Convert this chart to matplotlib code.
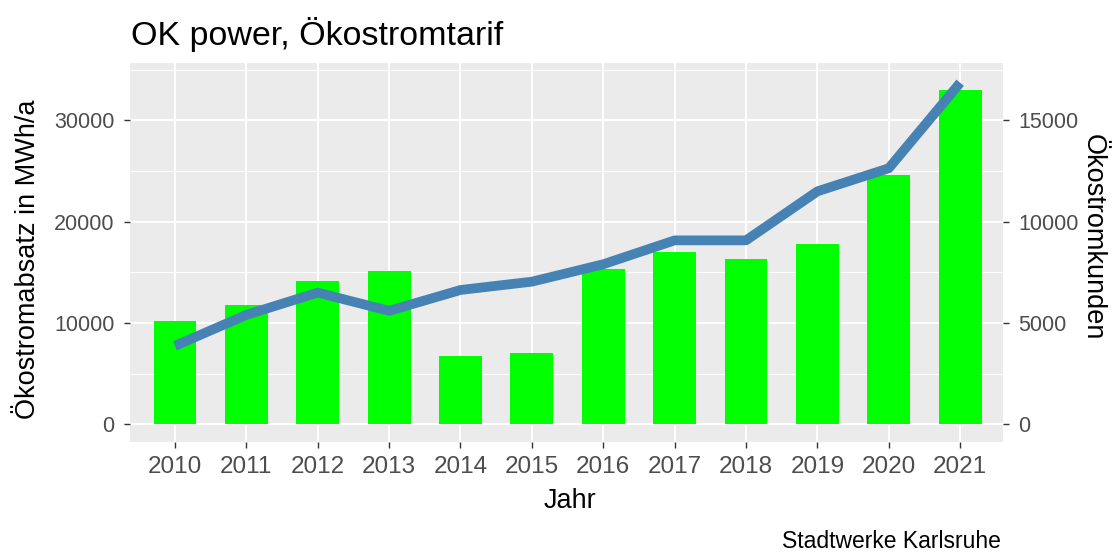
import numpy as np
import matplotlib.pyplot as plt

plt.rcParams['font.family'] = ['Liberation Sans', 'DejaVu Sans']

years = [2010, 2011, 2012, 2013, 2014, 2015, 2016, 2017, 2018, 2019, 2020, 2021]
absatz = [10200, 11750, 14100, 15100, 6700, 7050, 15300, 17050, 16300, 17800, 24600, 33000]
kunden = [3870, 5400, 6500, 5600, 6630, 7040, 7900, 9080, 9080, 11500, 12640, 16860]

left_ticks = [0, 10000, 20000, 30000]
right_ticks = [0, 5000, 10000, 15000]

W, H = 1119, 553
fig = plt.figure(figsize=(W / 100, H / 100), dpi=100)
ax = fig.add_axes([130 / W, 1 - 441.7 / H, (1003 - 130) / W, (441.7 - 62.7) / H])
ax.set_facecolor('#EBEBEB')

x = np.arange(len(years))
ax.bar(x, absatz, width=0.6, color='#00FF00', zorder=2)

ymin, ymax = -1720, 35700
ax.set_ylim(ymin, ymax)
ax.set_xlim(-0.63, len(years) - 1 + 0.6)

ax.set_yticks(left_ticks)
ax.set_yticks([5000, 15000, 25000, 35000], minor=True)
ax.set_xticks(x)
ax.set_xticklabels([str(y) for y in years])
ax.grid(which='major', color='white', linewidth=1.4, zorder=0)
ax.grid(which='minor', axis='y', color='white', linewidth=0.7, zorder=0)
ax.set_axisbelow(True)
for s in ax.spines.values():
    s.set_visible(False)
ax.tick_params(axis='y', which='major', length=4, width=1, color='#333333',
               labelsize=15.5, labelcolor='#4D4D4D', pad=7)
ax.tick_params(axis='x', which='major', length=4, width=1, color='#333333',
               labelsize=17.5, labelcolor='#4D4D4D', pad=6.5)
ax.tick_params(which='minor', length=0)

ax2 = ax.twinx()
ax2.plot(x, kunden, color='#4682B4', linewidth=7, solid_capstyle='butt', zorder=3)
ax2.set_ylim(ymin / 2, ymax / 2)
ax2.set_yticks(right_ticks)
for s in ax2.spines.values():
    s.set_visible(False)
ax2.tick_params(length=4, width=1, color='#333333', labelsize=15.5,
                labelcolor='#4D4D4D', pad=7)

fig.text(570 / W, 1 - 508 / H, 'Jahr', fontsize=19.5, ha='center', va='baseline')
fig.text(28 / W, 1 - 259 / H, 'Ökostromabsatz in MWh/a', fontsize=19.5,
         rotation=90, ha='center', va='center')
fig.text(1093 / W, 1 - 237 / H, 'Ökostromkunden', fontsize=19.5,
         rotation=270, ha='center', va='center')

fig.text(131 / W, 1 - 45 / H, 'OK power, Ökostromtarif', fontsize=24.5,
         ha='left', va='baseline')
fig.text(1001 / W, 1 - 548 / H, 'Stadtwerke Karlsruhe', fontsize=16.5,
         ha='right', va='baseline')

fig.savefig('out.png', dpi=100)
